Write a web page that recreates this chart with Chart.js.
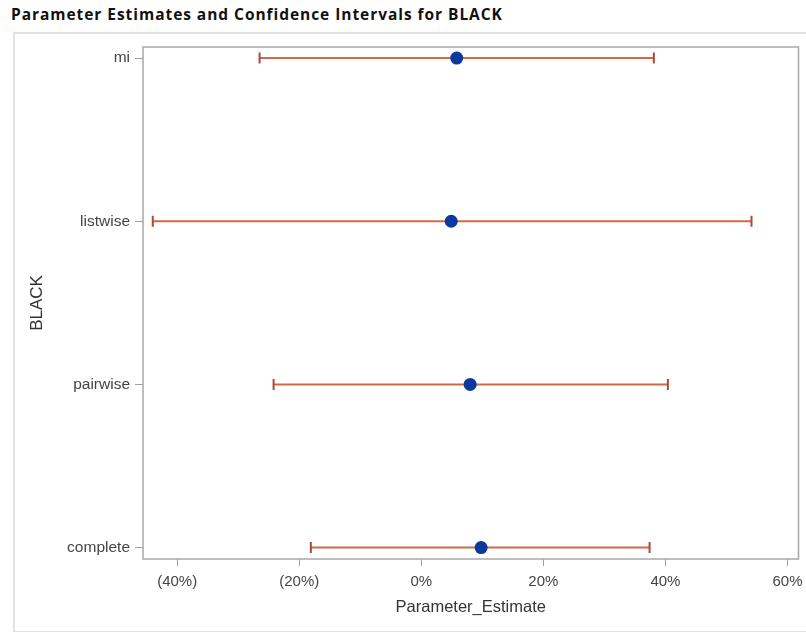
<!DOCTYPE html>
<html>
<head>
<meta charset="utf-8">
<script src="https://cdn.jsdelivr.net/npm/chart.js@4.4.0/dist/chart.umd.min.js"></script>
<style>
    body { margin: 0; background: #fff; }
    #wrap { position: relative; width: 806px; height: 632px; overflow: hidden; }
    #title { position: absolute; left: 11px; top: 3px; font: bold 15.5px "Open Sans", sans-serif; letter-spacing: 0.95px; color: #111; white-space: nowrap; }
    #box { position: absolute; left: 13px; top: 32px; width: 820px; height: 597px; border: 2px solid #e2e2e2; }
    canvas { position: absolute; left: 0; top: 0; }
</style>
</head>
<body>
<div id="wrap">
    <div id="title">Parameter Estimates and Confidence Intervals for BLACK</div>
    <div id="box"></div>
    <canvas id="chart" width="806" height="632"></canvas>
</div>
<script>
const categories = ["mi", "listwise", "pairwise", "complete"];
const estimates = [5.8, 4.9, 8.0, 9.8];
const lowerCL = [-26.5, -44.0, -24.2, -18.1];
const upperCL = [38.1, 54.1, 40.4, 37.4];
const xTicks = [-40, -20, 0, 20, 40, 60];

const barColor = "#d06a44";
const capColor = "#a64a3a";
const dotColor = "#0b3a9e";

// estimate dots go first so they are drawn on top
const datasets = [{
    label: "Estimate",
    data: estimates.map((v, i) => ({x: v, y: i})),
    pointRadius: 6.5,
    pointHoverRadius: 6.5,
    pointBackgroundColor: dotColor,
    pointBorderColor: dotColor,
    pointBorderWidth: 0,
    showLine: false
}];

categories.forEach((c, i) => {
    datasets.push({
        label: c,
        data: [{x: lowerCL[i], y: i}, {x: upperCL[i], y: i}],
        showLine: true,
        borderColor: barColor,
        borderWidth: 2,
        pointStyle: "line",
        pointRotation: 90,
        pointRadius: 5.5,
        pointHoverRadius: 5.5,
        pointBorderColor: capColor,
        pointBorderWidth: 2
    });
});

const framePlugin = {
    id: "frame",
    afterDraw(chart) {
        const a = chart.chartArea, g = chart.ctx;
        g.save();
        g.strokeStyle = "#a8a8a8";
        g.lineWidth = 1.5;
        g.strokeRect(a.left, a.top, a.right - a.left, a.bottom - a.top);
        g.restore();
    }
};

new Chart(document.getElementById("chart").getContext("2d"), {
    type: "scatter",
    data: {datasets},
    plugins: [framePlugin],
    options: {
        responsive: false,
        animation: false,
        layout: {padding: {left: 0, top: 47, right: 6, bottom: 0}},
        plugins: {legend: {display: false}, tooltip: {enabled: false}},
        scales: {
            x: {
                type: "linear",
                min: -45.6,
                max: 61.8,
                afterBuildTicks: s => { s.ticks = xTicks.map(v => ({value: v})); },
                afterFit: s => { s.height = 73; s.paddingLeft = 0; s.paddingRight = 0; },
                ticks: {
                    padding: 7,
                    color: "#444",
                    font: {family: "Liberation Sans", size: 15},
                    callback: v => v < 0 ? "(" + (-v) + "%)" : v + "%"
                },
                grid: {drawOnChartArea: false, tickLength: 7, color: "#a0a0a0"},
                border: {display: false},
                title: {
                    display: true,
                    text: "Parameter_Estimate",
                    color: "#333",
                    font: {family: "Liberation Sans", size: 16.5},
                    padding: {top: 0, bottom: 15}
                }
            },
            y: {
                type: "linear",
                reverse: true,
                min: -0.068,
                max: 3.07,
                afterBuildTicks: s => { s.ticks = categories.map((c, i) => ({value: i})); },
                afterFit: s => { s.width = 143; s.paddingTop = 0; s.paddingBottom = 0; },
                ticks: {
                    padding: 5,
                    color: "#444",
                    font: {family: "Liberation Sans", size: 15.5},
                    callback: v => categories[v]
                },
                grid: {drawOnChartArea: false, tickLength: 8, color: "#a0a0a0"},
                border: {display: false},
                title: {
                    display: true,
                    text: "BLACK",
                    color: "#333",
                    font: {family: "Liberation Sans", size: 17},
                    padding: {top: 27, bottom: 0}
                }
            }
        }
    }
});
</script>
</body>
</html>
